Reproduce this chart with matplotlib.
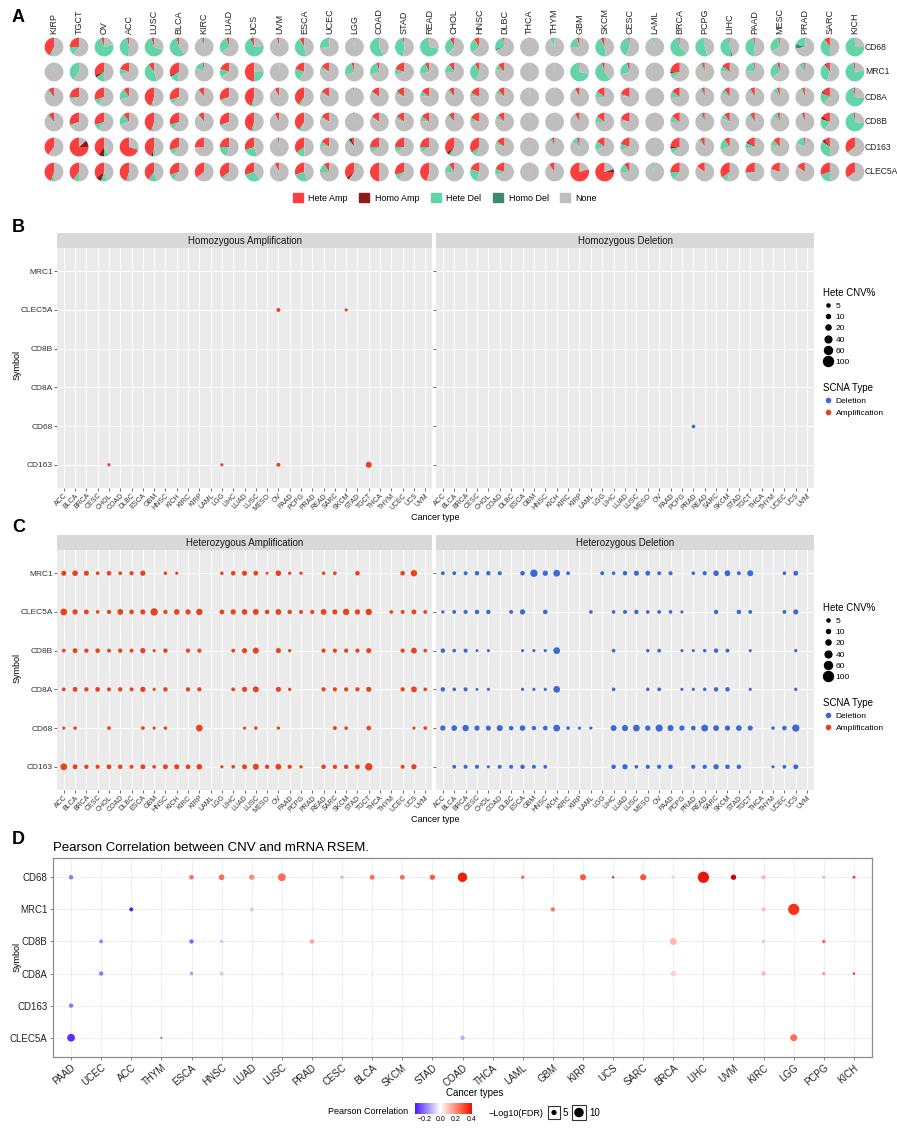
import matplotlib
matplotlib.use('Agg')
import matplotlib.pyplot as plt
import numpy as np
from matplotlib.patches import Patch, Rectangle
from matplotlib.lines import Line2D
from matplotlib.colors import LinearSegmentedColormap, Normalize
from matplotlib.cm import ScalarMappable

plt.rcParams['font.family'] = ['Liberation Sans', 'DejaVu Sans']

# ---------------- data ----------------
# panel A: pies (percent of samples)
pie_cancers = ['KIRP', 'TGCT', 'OV', 'ACC', 'LUSC', 'BLCA', 'KIRC', 'LUAD', 'UCS', 'UVM', 'ESCA',
               'UCEC', 'LGG', 'COAD', 'STAD', 'READ', 'CHOL', 'HNSC', 'DLBC', 'THCA', 'THYM', 'GBM',
               'SKCM', 'CESC', 'LAML', 'BRCA', 'PCPG', 'LIHC', 'PAAD', 'MESC', 'PRAD', 'SARC', 'KICH']
pie_genes = ['CD68', 'MRC1', 'CD8A', 'CD8B', 'CD163', 'CLEC5A']

hete_amp = {
    'CD68':   [42, 25, 5, 4, 5, 5, 3, 5, 5, 4, 8, 2, 2, 2, 3, 2, 8, 10, 3, 2, 0, 5, 7, 3, 0, 3, 0, 2, 3, 3, 0, 10, 0],
    'MRC1':   [0, 0, 30, 20, 10, 30, 3, 20, 50, 0, 20, 15, 5, 5, 20, 8, 10, 8, 12, 0.5, 0.5, 2, 5, 5, 0, 25, 5, 12, 3, 5, 3, 8, 3],
    'CD8A':   [10, 25, 30, 10, 45, 30, 10, 30, 45, 8, 40, 15, 2, 15, 15, 15, 10, 18, 12, 0, 0.5, 8, 15, 20, 0, 15, 5, 10, 8, 5, 5, 15, 3],
    'CD8B':   [10, 30, 30, 10, 45, 30, 10, 30, 45, 8, 40, 15, 2, 15, 15, 15, 10, 18, 12, 0, 0.5, 8, 15, 20, 0, 15, 5, 10, 8, 5, 5, 15, 3],
    'CD163':  [40, 75, 40, 70, 45, 30, 25, 25, 30, 2, 35, 15, 5, 25, 25, 25, 35, 35, 15, 2, 5, 5, 15, 20, 0.5, 25, 8, 10, 15, 12, 3, 10, 35],
    'CLEC5A': [45, 40, 35, 45, 40, 30, 35, 35, 30, 8, 30, 10, 35, 50, 30, 45, 10, 20, 20, 2, 10, 80, 75, 10, 0, 25, 15, 35, 25, 20, 15, 30, 35],
}
homo_amp = {
    'CD68':   [0, 0, 0, 0, 0, 0, 0, 0, 2, 0, 0, 0, 0, 0, 0, 0, 0, 0, 0, 0, 0, 0, 0, 0, 0, 0, 0, 0, 0, 0, 0, 0, 0],
    'MRC1':   [0, 0, 5, 0, 0, 3, 0, 0, 0, 0, 0, 0, 0, 0, 0, 0, 0, 0, 0, 0, 0, 0, 0, 0, 0, 2, 0, 2, 0, 0, 0, 2, 0],
    'CD8A':   [0, 0, 0, 0, 0, 0, 0, 0, 0, 0, 0, 0, 0, 0, 0, 0, 0, 0, 0, 0, 0, 0, 0, 0, 0, 0, 0, 0, 0, 0, 0, 3, 0],
    'CD8B':   [0, 0, 0, 0, 0, 0, 0, 0, 0, 0, 0, 0, 0, 0, 0, 0, 0, 0, 0, 0, 0, 0, 0, 0, 0, 0, 0, 0, 0, 0, 0, 5, 0],
    'CD163':  [0, 12, 10, 0, 3, 0, 0, 0, 0, 1, 0, 0, 5, 0, 0, 0, 5, 0, 0, 0, 0, 0, 0, 0, 0, 3, 0, 0, 3, 0, 0, 5, 0],
    'CLEC5A': [0, 0, 10, 0, 0, 0, 0, 0, 0, 0, 0, 0, 5, 0, 0, 0, 0, 0, 0, 0, 0, 0, 5, 0, 0, 0, 0, 0, 0, 0, 0, 0, 0],
}
hete_del = {
    'CD68':   [5, 15, 75, 45, 65, 55, 5, 30, 70, 0, 45, 25, 2, 55, 45, 70, 30, 25, 25, 0, 8, 20, 45, 40, 5, 60, 55, 50, 45, 30, 20, 40, 75],
    'MRC1':   [2, 40, 15, 10, 45, 15, 15, 15, 25, 1, 20, 5, 25, 25, 10, 20, 15, 35, 8, 0, 0, 70, 55, 25, 0, 10, 5, 10, 20, 30, 8, 35, 75],
    'CD8A':   [5, 5, 10, 20, 3, 8, 3, 3, 5, 0, 5, 3, 2, 2, 5, 8, 5, 5, 5, 1, 0, 3, 10, 3, 0, 10, 5, 8, 5, 8, 3, 20, 70],
    'CD8B':   [5, 3, 10, 20, 3, 8, 3, 3, 5, 0, 5, 3, 2, 2, 5, 8, 5, 5, 5, 1, 0, 3, 10, 3, 0, 10, 5, 8, 5, 8, 3, 20, 70],
    'CD163':  [0, 0, 8, 3, 5, 10, 0, 20, 25, 0, 15, 8, 5, 10, 10, 10, 5, 10, 5, 0, 5, 10, 15, 10, 0, 10, 5, 20, 10, 10, 15, 35, 2],
    'CLEC5A': [5, 10, 10, 5, 15, 10, 0, 5, 30, 0, 25, 15, 0, 0, 10, 0, 15, 25, 10, 0, 0, 0, 3, 15, 5, 15, 0, 10, 3, 0, 2, 20, 0],
}
homo_del = {
    'CD68':   [0, 0, 0, 0, 0, 0, 0, 0, 0, 0, 0, 0, 0, 0, 0, 0, 0, 0, 3, 0, 0, 0, 0, 0, 0, 0, 0, 3, 0, 0, 8, 0, 0],
    'MRC1':   [0] * 33,
    'CD8A':   [0, 0, 0, 0, 0, 0, 0, 0, 0, 0, 0, 0, 0, 0, 0, 0, 0, 0, 1, 0, 0, 0, 0, 0, 0, 0, 0, 0, 0, 0, 0, 0, 0],
    'CD8B':   [0, 0, 0, 0, 0, 0, 0, 0, 0, 0, 0, 0, 0, 0, 0, 0, 0, 0, 1, 0, 0, 0, 0, 0, 0, 0, 0, 0, 0, 0, 0, 0, 0],
    'CD163':  [0] * 33,
    'CLEC5A': [0] * 33,
}

# panels B and C: CNV% per cancer type (alphabetical), 0 = no point
cnv_cancers = ['ACC', 'BLCA', 'BRCA', 'CESC', 'CHOL', 'COAD', 'DLBC', 'ESCA', 'GBM', 'HNSC', 'KICH',
               'KIRC', 'KIRP', 'LAML', 'LGG', 'LIHC', 'LUAD', 'LUSC', 'MESO', 'OV', 'PAAD', 'PCPG',
               'PRAD', 'READ', 'SARC', 'SKCM', 'STAD', 'TGCT', 'THCA', 'THYM', 'UCEC', 'UCS', 'UVM']
cnv_genes = ['CD163', 'CD68', 'CD8A', 'CD8B', 'CLEC5A', 'MRC1']  # bottom to top

homo_amp_pct = {'CLEC5A': {'OV': 10, 'SKCM': 5},
                'CD163': {'CHOL': 5, 'LGG': 5, 'OV': 10, 'TGCT': 30}}
homo_del_pct = {'CD68': {'PRAD': 8}}

het_amp_pct = {
    'MRC1':   [20, 25, 20, 8, 15, 8, 12, 22, 0, 7, 5, 0, 0, 0, 7, 15, 20, 17, 4, 25, 6, 6, 0, 7, 8, 0, 15, 0, 0, 0, 15, 35, 0],
    'CLEC5A': [40, 22, 18, 8, 12, 28, 15, 20, 50, 12, 25, 22, 35, 0, 17, 22, 25, 28, 15, 28, 14, 10, 12, 28, 20, 35, 22, 35, 0, 8, 10, 18, 9],
    'CD8B':   [9, 18, 13, 15, 10, 13, 10, 22, 5, 14, 0, 12, 12, 0, 0, 9, 20, 30, 0, 20, 6, 0, 0, 12, 12, 12, 12, 20, 0, 0, 12, 28, 8],
    'CD8A':   [9, 18, 13, 16, 10, 13, 10, 22, 5, 14, 0, 12, 12, 0, 0, 9, 20, 30, 0, 20, 6, 0, 0, 12, 12, 12, 12, 20, 0, 0, 12, 28, 8],
    'CD68':   [5, 7, 0, 0, 8, 0, 0, 8, 5, 7, 0, 0, 40, 0, 0, 0, 5, 7, 0, 6, 0, 0, 0, 0, 10, 8, 0, 15, 0, 0, 0, 5, 8],
    'CD163':  [40, 18, 13, 12, 17, 14, 10, 18, 8, 18, 20, 16, 25, 0, 5, 8, 18, 30, 13, 28, 12, 6, 0, 14, 13, 14, 16, 50, 0, 0, 10, 22, 0],
}
het_del_pct = {
    'MRC1':   [9, 9, 10, 14, 13, 11, 0, 15, 50, 22, 40, 9, 0, 0, 10, 8, 14, 20, 18, 10, 11, 0, 8, 12, 25, 28, 10, 30, 0, 0, 8, 18, 0],
    'CLEC5A': [6, 9, 11, 14, 13, 0, 10, 22, 0, 15, 0, 0, 0, 8, 0, 8, 10, 13, 8, 9, 8, 5, 0, 0, 13, 0, 14, 9, 0, 0, 10, 20, 0],
    'CD8B':   [14, 8, 11, 4, 5, 0, 0, 5, 5, 5, 40, 0, 0, 0, 0, 8, 0, 0, 7, 9, 0, 5, 5, 7, 14, 10, 0, 5, 0, 0, 0, 6, 0],
    'CD8A':   [14, 8, 11, 4, 5, 0, 0, 5, 5, 5, 40, 0, 0, 0, 0, 8, 0, 0, 7, 9, 0, 5, 5, 7, 14, 14, 0, 5, 0, 0, 0, 6, 0],
    'CD68':   [22, 26, 35, 22, 20, 30, 15, 25, 13, 16, 40, 8, 5, 5, 0, 28, 32, 40, 22, 45, 32, 22, 16, 42, 28, 22, 26, 20, 0, 7, 15, 48, 0],
    'CD163':  [0, 9, 11, 11, 5, 10, 10, 14, 10, 9, 0, 0, 0, 0, 0, 14, 22, 8, 12, 12, 14, 0, 12, 12, 22, 15, 14, 0, 0, 5, 9, 18, 0],
}

# panel D: correlation between CNV and mRNA
cor_cancers = ['PAAD', 'UCEC', 'ACC', 'THYM', 'ESCA', 'HNSC', 'LUAD', 'LUSC', 'PRAD', 'CESC', 'BLCA',
               'SKCM', 'STAD', 'COAD', 'THCA', 'LAML', 'GBM', 'KIRP', 'UCS', 'SARC', 'BRCA', 'LIHC',
               'UVM', 'KIRC', 'LGG', 'PCPG', 'KICH']
cor_genes = ['CLEC5A', 'CD163', 'CD8A', 'CD8B', 'MRC1', 'CD68']  # bottom to top
d_gene = ['CD68'] * 20 + ['MRC1'] * 5 + ['CD8B'] * 8 + ['CD8A'] * 9 + ['CD163'] + ['CLEC5A'] * 4
d_cancer = ['PAAD', 'ESCA', 'HNSC', 'LUAD', 'LUSC', 'CESC', 'BLCA', 'SKCM', 'STAD', 'COAD',
            'LAML', 'KIRP', 'UCS', 'SARC', 'BRCA', 'LIHC', 'UVM', 'KIRC', 'PCPG', 'KICH',
            'ACC', 'LUAD', 'GBM', 'KIRC', 'LGG',
            'UCEC', 'ESCA', 'HNSC', 'PRAD', 'THCA', 'BRCA', 'KIRC', 'PCPG',
            'UCEC', 'ESCA', 'HNSC', 'LUSC', 'THCA', 'BRCA', 'KIRC', 'PCPG', 'KICH',
            'PAAD',
            'PAAD', 'THYM', 'COAD', 'LGG']
d_cor = [-0.2, 0.25, 0.25, 0.2, 0.25, 0.15, 0.25, 0.25, 0.28, 0.38,
         0.25, 0.28, 0.4, 0.3, 0.08, 0.4, 0.5, 0.12, 0.15, 0.3,
         -0.32, -0.08, 0.25, 0.12, 0.35,
         -0.18, -0.22, -0.08, 0.15, 0.05, 0.12, 0.1, 0.25,
         -0.2, -0.15, -0.08, -0.05, 0.03, 0.08, 0.12, 0.18, 0.4,
         -0.2,
         -0.3, -0.2, -0.12, 0.25]
d_fdr = [4, 4, 5.5, 5, 8, 2.5, 4.5, 4.5, 5, 10,
         3, 6, 1.5, 6, 3, 12, 5, 4, 2, 2.5,
         3.5, 3.5, 3.5, 3.5, 12,
         3.5, 4, 3, 4, 1.5, 7, 3, 3,
         4, 3, 3.5, 1.8, 1, 5, 4, 2.5, 1.5,
         4,
         8, 1.5, 4, 7]

# ---------------- figure ----------------
W, H = 897, 1130
fig = plt.figure(figsize=(W / 100, H / 100), dpi=100)


def px_axes(x0, y0, x1, y1):
    return fig.add_axes([x0 / W, 1 - y1 / H, (x1 - x0) / W, (y1 - y0) / H])


def panel_label(x, y, s):
    fig.text(x / W, 1 - y / H, s, fontsize=13, fontweight='bold', va='center', ha='left',
             family='Liberation Sans')


# ---- A: pies ----
pie_colors = ['#FB3F3F', '#8C1B1B', '#63D3A8', '#3D8B6B', '#BEBEBE']
axA = px_axes(40, 34, 872, 186)
for j, gene in enumerate(pie_genes):
    for i, c in enumerate(pie_cancers):
        parts = [hete_amp[gene][i], homo_amp[gene][i], hete_del[gene][i], homo_del[gene][i]]
        parts.append(max(100 - sum(parts), 0))
        axA.pie(parts, colors=pie_colors, center=(54 + 25.03 * i, H - (47 + 25 * j)), radius=9.4,
                startangle=90, counterclock=True, frame=True, wedgeprops={'linewidth': 0})
axA.set_xlim(40, 872)
axA.set_ylim(H - 186, H - 34)
axA.axis('off')
for i, c in enumerate(pie_cancers):
    axA.text(54 + 25.03 * i, H - 34, c, rotation=90, ha='center', va='bottom', fontsize=6.5,
             color='#222222')
for j, gene in enumerate(pie_genes):
    axA.text(865, H - (47 + 25 * j), gene, ha='left', va='center', fontsize=6.2, color='#222222')
fig.legend(handles=[Patch(color=col, label=lab) for col, lab in
                    zip(pie_colors, ['Hete Amp', 'Homo Amp', 'Hete Del', 'Homo Del', 'None'])],
           loc='center', bbox_to_anchor=(445 / W, 1 - 198 / H), ncol=5, frameon=False, fontsize=6.5,
           handlelength=1.1, handleheight=1.1, columnspacing=1.3, handletextpad=0.6)
panel_label(12, 18, 'A')

# ---- B and C: facetted dot plots ----
AMP_COL = '#E8431C'
DEL_COL = '#3A6AD8'


def cnv_size(v):
    d = 1.2 + 8.8 * np.sqrt(np.asarray(v, dtype=float) / 100)
    return (0.72 * d) ** 2


def facet(x0, x1, y_strip, y_top, y_bot, title, values, color, show_y):
    st = px_axes(x0, y_strip, x1, y_top)
    st.set_facecolor('#D9D9D9')
    st.set_xticks([])
    st.set_yticks([])
    for sp in st.spines.values():
        sp.set_visible(False)
    st.text(0.5, 0.45, title, ha='center', va='center', fontsize=7, color='#1A1A1A',
            transform=st.transAxes)
    ax = px_axes(x0, y_top, x1, y_bot)
    ax.set_facecolor('#EBEBEB')
    for gi, gene in enumerate(cnv_genes):
        row = values.get(gene, {})
        if isinstance(row, dict):
            xs = [cnv_cancers.index(k) for k in row]
            vs = list(row.values())
        else:
            xs = [k for k, v in enumerate(row) if v > 0]
            vs = [v for v in row if v > 0]
        if xs:
            ax.scatter(xs, [gi] * len(xs), s=cnv_size(vs), color=color, linewidths=0, zorder=3)
    ax.set_xlim(-0.6, 32.6)
    ax.set_ylim(-0.6, 5.6)
    ax.set_xticks(range(len(cnv_cancers)))
    ax.set_xticklabels(cnv_cancers, rotation=45, ha='right', rotation_mode='anchor', fontsize=5,
                       color='#333333')
    ax.set_yticks(range(len(cnv_genes)))
    if show_y:
        ax.set_yticklabels(cnv_genes, fontsize=6, color='#333333')
    else:
        ax.set_yticklabels([])
        ax.tick_params(axis='y', length=0)
    ax.grid(color='white', linewidth=0.7)
    ax.set_axisbelow(True)
    for sp in ax.spines.values():
        sp.set_visible(False)
    ax.tick_params(length=2, width=0.5, color='#333333', pad=1)
    return ax


def size_legends(y_top):
    h1 = [Line2D([], [], marker='o', linestyle='', color='black', markersize=np.sqrt(cnv_size(v)),
                 label=str(v)) for v in [5, 10, 20, 40, 60, 100]]
    fig.legend(handles=h1, title='Hete CNV%', loc='upper left', bbox_to_anchor=(820 / W, 1 - y_top / H),
               frameon=False, fontsize=6, title_fontsize=7, alignment='left', labelspacing=0.42,
               handletextpad=0.3, borderaxespad=0, handlelength=1.2)
    h2 = [Line2D([], [], marker='o', linestyle='', color=DEL_COL, markersize=3, label='Deletion'),
          Line2D([], [], marker='o', linestyle='', color=AMP_COL, markersize=3, label='Amplification')]
    fig.legend(handles=h2, title='SCNA Type', loc='upper left', bbox_to_anchor=(820 / W, 1 - (y_top + 95) / H),
               frameon=False, fontsize=6, title_fontsize=7, alignment='left', labelspacing=0.5,
               handletextpad=0.3, borderaxespad=0, handlelength=1.2)


facet(57, 432, 233, 248, 488, 'Homozygous Amplification', homo_amp_pct, AMP_COL, True)
facet(436, 814, 233, 248, 488, 'Homozygous Deletion', homo_del_pct, DEL_COL, False)
fig.text(17 / W, 1 - 365 / H, 'Symbol', rotation=90, fontsize=6.5, va='center', ha='center')
fig.text(435 / W, 1 - 518 / H, 'Cancer type', fontsize=6.5, va='center', ha='center')
size_legends(285)
panel_label(12, 228, 'B')

facet(57, 432, 535, 550, 790, 'Heterozygous Amplification', het_amp_pct, AMP_COL, True)
facet(436, 814, 535, 550, 790, 'Heterozygous Deletion', het_del_pct, DEL_COL, False)
fig.text(17 / W, 1 - 668 / H, 'Symbol', rotation=90, fontsize=6.5, va='center', ha='center')
fig.text(435 / W, 1 - 820 / H, 'Cancer type', fontsize=6.5, va='center', ha='center')
size_legends(600)
panel_label(12, 528, 'C')

# ---- D: correlation bubble plot ----
cmap = LinearSegmentedColormap.from_list('pc', [(0, '#4A1AFF'), (0.42, '#FFFFFF'), (0.85, '#FF3A20'),
                                                (1, '#D00000')])
norm = Normalize(vmin=-0.33, vmax=0.45)


def fdr_size(v):
    d = 1 + 0.85 * np.asarray(v, dtype=float)
    return (0.72 * d) ** 2


axD = px_axes(53, 858, 872, 1057)
xs = [cor_cancers.index(c) for c in d_cancer]
ys = [cor_genes.index(g) for g in d_gene]
axD.scatter(xs, ys, s=fdr_size(d_fdr), c=d_cor, cmap=cmap, norm=norm, linewidths=0, zorder=3)
axD.set_xlim(-0.6, 26.6)
axD.set_ylim(-0.6, 5.6)
axD.set_xticks(range(len(cor_cancers)))
axD.set_xticklabels(cor_cancers, rotation=40, ha='right', rotation_mode='anchor', fontsize=7,
                    color='#222222')
axD.set_yticks(range(len(cor_genes)))
axD.set_yticklabels(cor_genes, fontsize=7, color='#222222')
axD.tick_params(length=2, width=0.5, color='#555555', pad=2)
axD.grid(color='#CFCFCF', linestyle=':', linewidth=0.6)
axD.set_axisbelow(True)
for sp in axD.spines.values():
    sp.set_color('#8C8C8C')
    sp.set_linewidth(0.9)
fig.text(53 / W, 1 - 848 / H, 'Pearson Correlation between CNV and mRNA RSEM.', fontsize=9.5,
         va='center', ha='left')
fig.text(17 / W, 1 - 957 / H, 'Symbol', rotation=90, fontsize=6.5, va='center', ha='center')
fig.text(475 / W, 1 - 1093 / H, 'Cancer types', fontsize=7, va='center', ha='center')
panel_label(12, 840, 'D')

# colour bar legend
fig.text(408 / W, 1 - 1112 / H, 'Pearson Correlation', fontsize=6.5, va='center', ha='right')
cax = px_axes(415, 1103, 472, 1114)
cb = fig.colorbar(ScalarMappable(norm=Normalize(vmin=-0.33, vmax=0.41), cmap=LinearSegmentedColormap.from_list(
    'pc2', [cmap(norm(v)) for v in np.linspace(-0.33, 0.41, 64)])), cax=cax, orientation='horizontal')
cb.set_ticks([-0.2, 0.0, 0.2, 0.4])
cb.set_ticklabels(['\u22120.2', '0.0', '0.2', '0.4'])
cb.ax.tick_params(labelsize=5, length=0, pad=1.5)
cb.outline.set_visible(False)

# size legend
fig.text(488 / W, 1 - 1113 / H, '\u2212Log10(FDR)', fontsize=6.5, va='center', ha='left')
kax = px_axes(546, 1101, 612, 1123)
kax.set_xlim(546, 612)
kax.set_ylim(0, 22)
kax.axis('off')
kax.add_patch(Rectangle((548, 4), 12, 13, fill=False, edgecolor='#333333', linewidth=0.8))
kax.add_patch(Rectangle((572, 3), 14, 15, fill=False, edgecolor='#333333', linewidth=0.8))
kax.scatter([554, 579], [10.5, 10.5], s=fdr_size([5, 10]), color='black', linewidths=0)
kax.text(563, 10.5, '5', fontsize=7, va='center', ha='left')
kax.text(589, 10.5, '10', fontsize=7, va='center', ha='left')

fig.savefig('out.png', dpi=100)
